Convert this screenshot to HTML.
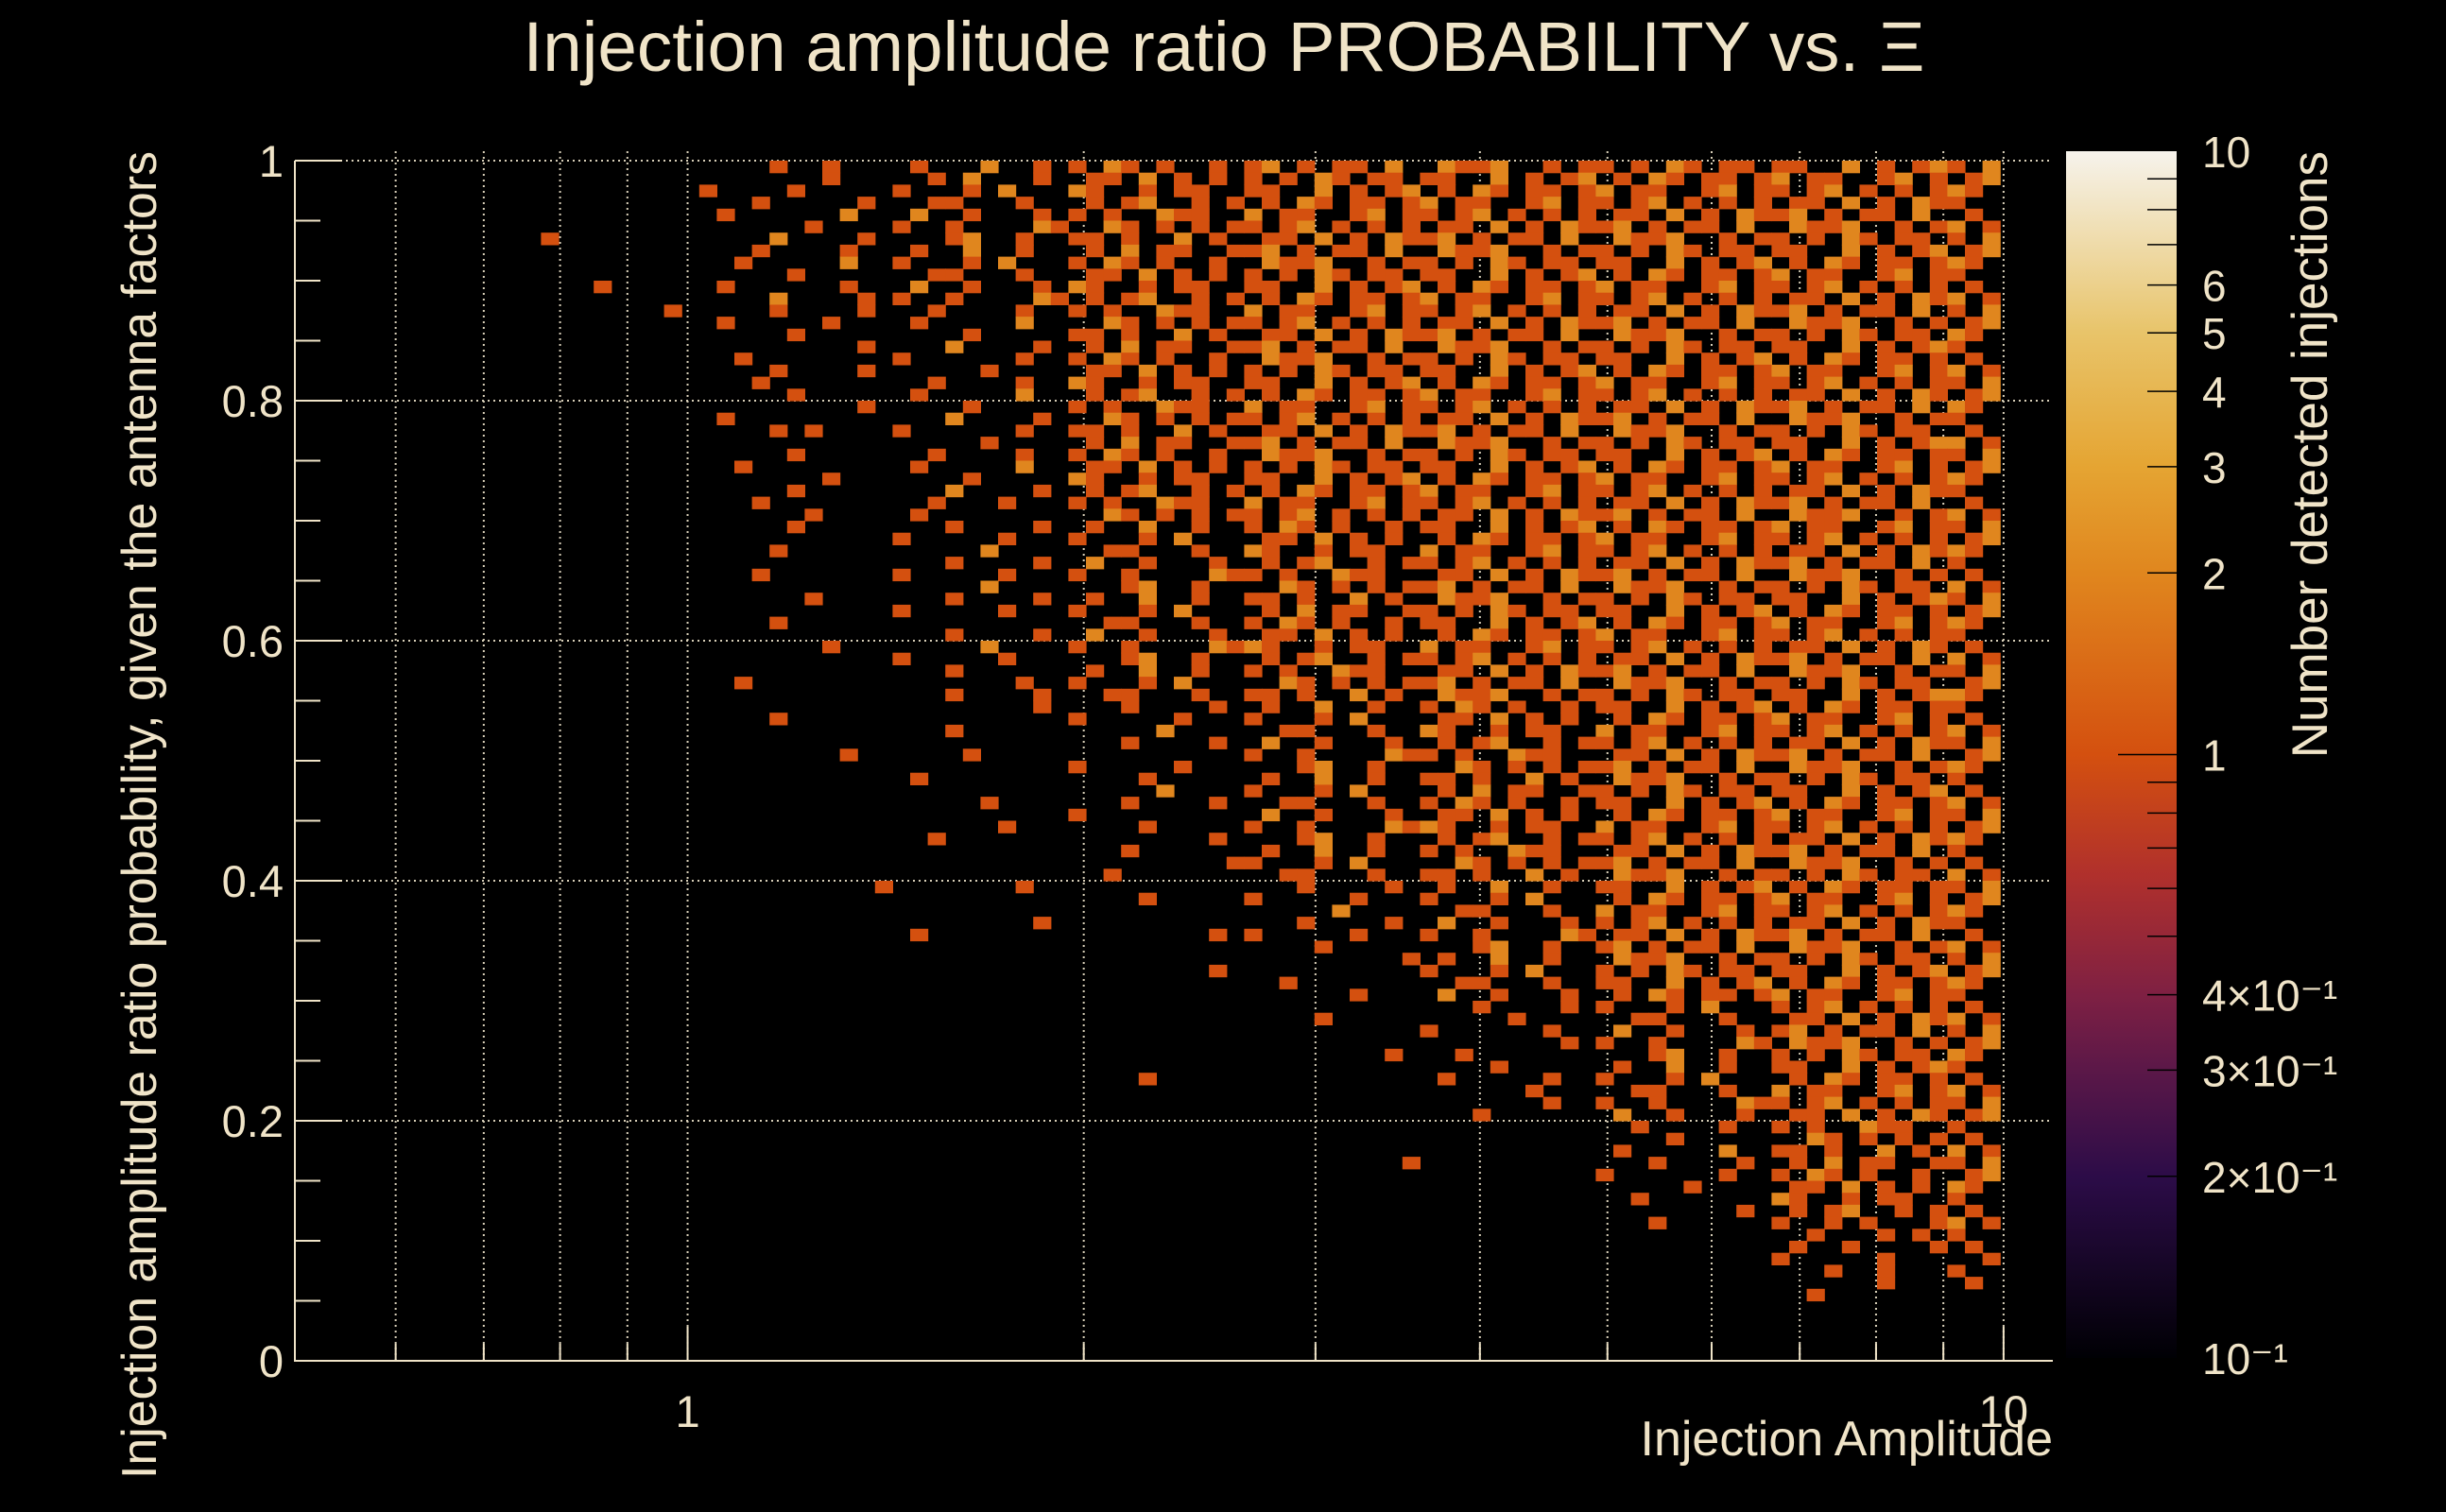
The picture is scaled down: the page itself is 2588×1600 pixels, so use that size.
<!DOCTYPE html>
<html><head><meta charset="utf-8"><style>
html,body{margin:0;padding:0;background:#000;}
svg{display:block;}
text{font-family:"Liberation Sans",sans-serif;fill:#f0e4c8;}
</style></head><body>
<svg id="chart" width="2588" height="1600" viewBox="0 0 2588 1600" xmlns="http://www.w3.org/2000/svg">
<rect x="0" y="0" width="2588" height="1600" fill="#000"/>
<defs>
<linearGradient id="cmap" x1="0" y1="1" x2="0" y2="0">
<stop offset="0" stop-color="#000004"/><stop offset="0.15" stop-color="#2c0c48"/><stop offset="0.24" stop-color="#5c1848"/>
<stop offset="0.30" stop-color="#7e2043"/><stop offset="0.40" stop-color="#b0302c"/><stop offset="0.5" stop-color="#d4500f"/>
<stop offset="0.65" stop-color="#e0861e"/><stop offset="0.74" stop-color="#e5a533"/><stop offset="0.85" stop-color="#e8c46a"/>
<stop offset="1" stop-color="#f6f3ec"/></linearGradient></defs>
<g id="grid"></g>
<g id="cells"></g>
<g id="axes"></g>
<g id="cbar"></g>
<text x="1295" y="75" font-size="74" text-anchor="middle" textLength="1483" lengthAdjust="spacingAndGlyphs">Injection amplitude ratio PROBABILITY vs.  Ξ</text>
<text x="2172" y="1540" font-size="52" text-anchor="end">Injection Amplitude</text>
<text transform="translate(165,160) rotate(-90)" font-size="52" text-anchor="end" textLength="1405" lengthAdjust="spacingAndGlyphs">Injection amplitude ratio probability, given the antenna factors</text>
<text transform="translate(2462,160) rotate(-90)" font-size="53" text-anchor="end">Number detected injections</text>
</svg>
<script>
// ---- data ----
const xTickValues = [1, 10];
const xTickLabels = ["1", "10"];
const xGridValues = [0.6,0.7,0.8,0.9,1,2,3,4,5,6,7,8,9,10];
const yTickValues = [0,0.2,0.4,0.6,0.8,1];
const yTickLabels = ["0","0.2","0.4","0.6","0.8","1"];
const zTickValues = [10,6,5,4,3,2,1,0.4,0.3,0.2,0.1];
const zTickLabels = ["10","6","5","4","3","2","1","4×10⁻¹","3×10⁻¹","2×10⁻¹","10⁻¹"];
const firstCol = 14;
// rows from top (y bin 0.99-1.0) downward; char = count per cell, starting at column 14
const rowsRaw = [
".......... ...1..1... .1...2..1. 1.21.1..1. 12.1.11.2. .2112..1.1 1.1.21.11. 11..2.1.12 1.21",
".......... ......1... ..1.2...1. .11.2.1.1. 1.1.21.11. 11..2.1.12 .1.21.11.1 2.11..12.1 .12.",
".........1 ....1..... 1...1.2... 21..1.11.. 11..2.1.12 .1.21.11.1 2.11..12.1 1.12.1.1.1 21.1",
".......... ..1.....1. ..11...1.. .1.12..1.1 .1.21.11.1 2.11..12.1 1.12.1.1.1 .11.2.1.21 1..1",
".......... 1......2.. .2..1...1. 1.1..211.. 2.11..12.1 1.12.1.1.1 .11.2.1.21 12.1.11.2. .1.1",
".......... .....1.... 1..1....21 ..21.1.1.1 1.12.1.1.1 .11.2.1.21 12.1.11.2. .2112..1.1 2.1.",
"1......... ...2....1. ...12..1.. 11.1..2.1. .11.2.1.21 12.1.11.2. .2112..1.1 1.1.21.11. 1.21",
".......... ..1....1.. .1..2..1.. .1.2.11..1 12.1.11.2. .2112..1.1 1.1.21.11. 11..2.1.12 .12.",
".......... .1.....2.. 1...1.2... 1.21.1..1. .2112..1.1 1.1.21.11. 11..2.1.12 .1.21.11.1 21.1",
".......... ....1..... ..11...1.. .11.2.1.1. 1.1.21.11. 11..2.1.12 .1.21.11.1 2.11..12.1 1..1",
"...1...... 1......1.. .2..1...1. 21..1.11.. 11..2.1.12 .1.21.11.1 2.11..12.1 1.12.1.1.1 .1.1",
".......... ...2....1. 1..1....21 .1.12..1.1 .1.21.11.1 2.11..12.1 1.12.1.1.1 .11.2.1.21 2.1.",
".......1.. ...1....1. ..1....1.. 1.1..211.. 2.11..12.1 1.12.1.1.1 .11.2.1.21 12.1.11.2. 1.21",
".......... 1.....1... .1.....2.. ..21.1.1.1 1.12.1.1.1 .11.2.1.21 12.1.11.2. .2112..1.1 .12.",
".......... ....1..... ....1..... 11.1..2.1. .11.2.1.21 12.1.11.2. .2112..1.1 1.1.21.11. 21.1",
".......... ........1. ...2....1. .1.2.11..1 12.1.11.2. .2112..1.1 1.1.21.11. 11..2.1.12 1..1",
".......... .1........ 1......1.. 1.21.1..1. .2112..1.1 1.1.21.11. 11..2.1.12 .1.21.11.1 .1.1",
".......... ...1....1. .....1.... .11.2.1.1. 1.1.21.11. 11..2.1.12 .1.21.11.1 2.11..12.1 2.1.",
".......... ..1....... ..1....1.. 21..1.11.. 11..2.1.12 .1.21.11.1 2.11..12.1 1.12.1.1.1 1.21",
".......... ....1..... .1.....2.. .1.12..1.1 .1.21.11.1 2.11..12.1 1.12.1.1.1 .11.2.1.21 .12.",
".......... ........1. ....1..... 1.1..211.. 2.11..12.1 1.12.1.1.1 .11.2.1.21 12.1.11.2. 21.1",
".......... 1......... ...2....1. ..21.1.1.1 1.12.1.1.1 .11.2.1.21 12.1.11.2. .2112..1.1 1..1",
".......... ...1.1.... 1......1.. 11.1..2.1. .11.2.1.21 12.1.11.2. .2112..1.1 1.1.21.11. .1.1",
".......... .......... .....1.... .1.2.11..1 12.1.11.2. .2112..1.1 1.1.21.11. 11..2.1.12 2.1.",
".......... ....1..... ..1....1.. 1.21.1..1. .2112..1.1 1.1.21.11. 11..2.1.12 .1.21.11.1 1.21",
".......... .1........ .1.....2.. .11.2.1.1. 1.1.21.11. 11..2.1.12 .1.21.11.1 2.11..12.1 .12.",
".......... ......1... ....1..... 21..1.11.. 11..2.1.12 .1.21.11.1 2.11..12.1 1.12.1.1.1 21.1",
".......... ....1..... ...2....1. .1.12..1.1 .1.21.11.1 2.11..12.1 1.12.1.1.1 .11.2.1.21 1..1",
".......... ..1....... ..1...1... 1.1..211.. 2.11..12.1 1.12.1.1.1 .11.2.1.21 12.1.11.2. .1.1",
".......... .....1.... .1........ ..21.1.1.1 1.12.1.1.1 .11.2.1.21 12.1.11.2. .2112..1.1 2.1.",
".......... ....1..... ...1....1. .1..2..1.. 1.21.1..1. 11..2.1.12 .1.21.11.1 2.11..12.1 1.21",
".......... .......... 1.....1... 1...1.2... .11.2.1.1. .1.21.11.1 2.11..12.1 1.12.1.1.1 .12.",
".......... ...1...... .....2.... ..11...1.. 21..1.11.. 2.11..12.1 1.12.1.1.1 .11.2.1.21 21.1",
".......... .......... ...1....1. .2..1...1. .1.12..1.1 1.12.1.1.1 .11.2.1.21 12.1.11.2. 1..1",
".......... ..1....... 1.....1... 1..1....21 1.1..211.. .11.2.1.21 12.1.11.2. .2112..1.1 .1.1",
".......... .......... .....2.... ...12..1.. ..21.1.1.1 12.1.11.2. .2112..1.1 1.1.21.11. 2.1.",
".......... .....1.... ...1....1. .1..2..1.. 11.1..2.1. .2112..1.1 1.1.21.11. 11..2.1.12 1.21",
".......... .......... 1.....1... 1...1.2... .1.2.11..1 1.1.21.11. 11..2.1.12 .1.21.11.1 .12.",
".......... ...1...... .......... ..11...1.. 1.21.1..1. 11..2.1.12 .1.21.11.1 2.11..12.1 21.1",
".......... .......... ...1....1. .2..1...1. .11.2.1.1. .1.21.11.1 2.11..12.1 1.12.1.1.1 1..1",
".......... ......1... .....2.... 1..1....21 21..1.11.. 2.11..12.1 1.12.1.1.1 .11.2.1.21 .1.1",
".......... .......... 1.....1... ...12..1.. .1.12..1.1 1.12.1.1.1 .11.2.1.21 12.1.11.2. 2.1.",
".......... .......... ...1...... .1..2..1.. 1.1..211.. .11.2.1.21 12.1.11.2. .2112..1.1 1.21",
".......... .1........ .......1.. 1...1.2... ..21.1.1.1 12.1.11.2. .2112..1.1 1.1.21.11. .12.",
".......... .......... ...1....1. ..11...1.. 11.1..2.1. .2112..1.1 1.1.21.11. 11..2.1.12 21.1",
".......... .......... ........1. ...1....1. .1..2..1.. 1.21.1..1. 11..2.1.12 .1.21.11.1 1..1",
".......... ...1...... .......... 1.....1... 1...1.2... .11.2.1.1. .1.21.11.1 2.11..12.1 .1.1",
".......... .......... ...1...... .....2.... ..11...1.. 21..1.11.. 2.11..12.1 1.12.1.1.1 2.1.",
".......... .......... .......... ...1....1. .2..1...1. .1.12..1.1 1.12.1.1.1 .11.2.1.21 1.21",
".......... .......1.. ....1..... .......... 1..1....21 1.1..211.. .11.2.1.21 12.1.11.2. .12.",
".......... .......... .......... 1.....1... ...12..1.. ..21.1.1.1 12.1.11.2. .2112..1.1 21.1",
".......... .......... .1........ ....1..... .1..2..1.. 11.1..2.1. .2112..1.1 1.1.21.11. 1..1",
".......... .......... .......... .....2.... 1...1.2... .1.2.11..1 1.1.21.11. 11..2.1.12 .1.1",
".......... .......... .....1.... ...1....1. ..11...1.. 1.21.1..1. 11..2.1.12 .1.21.11.1 2.1.",
".......... .......... .......... 1......... .2..1...1. .11.2.1.1. .1.21.11.1 2.11..12.1 1.21",
".......... .......... ......1... ....1..... 1..1....21 21..1.11.. 2.11..12.1 1.12.1.1.1 .12.",
".......... .......... ..1....... ........1. ...12..1.. .1.12..1.1 1.12.1.1.1 .11.2.1.21 21.1",
".......... .......... .......... ...1...... .1..2..1.. 1.1..211.. .11.2.1.21 12.1.11.2. 1..1",
".......... .......... .......... .........1 1...1.2... ..21.1.1.1 12.1.11.2. .2112..1.1 .1.1",
".......... .......... .......... ..1....... ..11...1.. 11.1..2.1. .2112..1.1 1.1.21.11. 2.1.",
".......... .........1 .......1.. .......... ...1....1. .1..2..1.. 11..2.1.12 .1.21.11.1 1.21",
".......... .......... .......... ....1..... 1.....1... 1...1.2... .1.21.11.1 2.11..12.1 .12.",
".......... .......... .......... .......... .....2.... ..11...1.. 2.11..12.1 1.12.1.1.1 21.1",
".......... .......... ........1. .......... ...1....1. .2..1...1. 1.12.1.1.1 .11.2.1.21 1..1",
".......... .......... .1........ ........1. 1.....1... 1..1....21 .11.2.1.21 12.1.11.2. .1.1",
".......... .......... .......... .......... ....1..... ...12..1.. 12.1.11.2. .2112..1.1 2.1.",
".......... .......... .......... .......... .........1 .1..2..1.. .2112..1.1 1.1.21.11. 1.21",
".......... .......... .......... ........1. .......... 1...1.2... 1.1.21.11. 11..2.1.12 .12.",
".......... .......... .......... .......... ..1....... ..11...1.. 11..2.1.12 .1.21.11.1 21.1",
".......... .......... .......... .......... ......1... .2..1...1. .1.21.11.1 2.11..12.1 1..1",
".......... .......... .......... .......... .......... ...1....1. 1...1.2... 1.12.1.1.1 .1.1",
".......... .......... .......... .......... ....1..... .....1.... ..11...1.. .11.2.1.21 2.1.",
".......... .......... .......... .......... .......... 1......1.. .2..1...1. 12.1.11.2. 1.21",
".......... .......... .......... .......... .......... ........1. 1..1....21 .2112..1.1 .12.",
".......... .......... .......... .......... ........1. ..1....... ...12..1.. 1.1.21.11. 21.1",
".......... .......... .......... .......... .......... ....1..... .1..2..1.. 11..2.1.12 1..1",
".......... .......... .......... ....1..... .......... .1.....1.. 1...1.2... .1.21.11.1 .1.1",
".......... .......... .......... .......... .......... ......1... ..11...1.. 2.11..12.1 2.1.",
".......... .......... .......... .......... .......... .......1.. 1..1....21 1.12.1.1.1 1.21",
".......... .......... .......... .......... .......... ...1...... .2..1...1. .11.2.1.21 .12.",
".......... .......... .......... .......... .......... .......... ..1....1.. 1.1..211.. 1..1",
".......... .......... .......... .......... .......... .......... ....1..... ..21.1.1.1 .1.1",
".......... .......... .......... .......... .......... .......... .1.....2.. 11.1..2.1. 2.1.",
".......... .......... .......... .......... .........1 .......... ...1....1. .1.2.11..1 1.21",
".......... .......... .......... .......... .......... .......... 1......1.. 1.21.1..1. .12.",
".......... .......... .......... .......... .......... .......... .....1.... .11.2.1.1. 21.1",
".......... .......... .......... .......... .......... .......... ..1....... 21..1.11.. 1..1",
".......... .......... .......... .......... .......... .......... ........1. .1.12..1.1 .1.1",
".......... .......... .......... .......... .......... .......... ...1...... 1..1.1...1 2.1.",
".......... .......... .......... .......... .......... .......... .......... ..1...1.1. 1..1",
".......... .......... .......... .......... .......... .......... .......... .1..1....1 .1..",
".......... .......... .......... .......... .......... .......... .......... 1.....1... ..1.",
".......... .......... .......... .......... .......... .......... .......... ...1..1... 1...",
".......... .......... .......... .......... .......... .......... .......... ......1... .1..",
".......... .......... .......... .......... .......... .......... .......... ..1....... ...."
];
// ---- scales ----
const NS="http://www.w3.org/2000/svg";
const PX0=312, PX1=2172, PY0=1440, PY1=170;
const XMIN=0.503, XMAX=10.9, NXB=100, NYB=100, MAXCOL=96;
function xScale(v){return PX0+(Math.log10(v)-Math.log10(XMIN))/(Math.log10(XMAX)-Math.log10(XMIN))*(PX1-PX0);}
function yScale(v){return PY0-v*(PY0-PY1);}
const CB_TOP=160, CB_BOT=1437, CB_X0=2186, CB_X1=2303;
function zScale(v){return CB_BOT-(Math.log10(v)-Math.log10(0.1))/2*(CB_BOT-CB_TOP);}
const stops=[[0,[0,0,4]],[0.15,[44,12,72]],[0.24,[92,24,72]],[0.30,[126,32,67]],[0.40,[176,48,44]],[0.5,[212,80,15]],[0.65,[224,134,30]],[0.74,[229,165,51]],[0.85,[232,196,106]],[1,[246,243,236]]];
function zColor(v){
  let t=(Math.log10(v)+1)/2; t=Math.max(0,Math.min(1,t));
  for(let i=1;i<stops.length;i++){ if(t<=stops[i][0]){const a=stops[i-1],b=stops[i];const f=(t-a[0])/(b[0]-a[0]);
    const c=a[1].map((x,k)=>Math.round(x+(b[1][k]-x)*f));return `rgb(${c[0]},${c[1]},${c[2]})`;}}
  return "rgb(246,243,236)";
}
function binEdgeX(i){return Math.pow(10,Math.log10(XMIN)+i*(Math.log10(XMAX)-Math.log10(XMIN))/NXB);}
function mk(tag,attrs,parent){const e=document.createElementNS(NS,tag);for(const k in attrs)e.setAttribute(k,attrs[k]);parent.appendChild(e);return e;}
const rows=rowsRaw.map(s=>s.replace(/ /g,''));
// ---- grid ----
const grid=document.getElementById('grid');
yTickValues.slice(1).forEach(v=>{
  const l=mk('line',{x1:PX0,x2:PX1,y1:yScale(v),y2:yScale(v),stroke:'#d8cfb8','stroke-width':2,'stroke-dasharray':'2 4'},grid);
  
  
});
xGridValues.forEach(v=>{
  const l=mk('line',{x1:xScale(v),x2:xScale(v),y1:160,y2:PY0,stroke:'#d8cfb8','stroke-width':2,'stroke-dasharray':'2 4'},grid);
  
  
});
// ---- cells ----
const cells=document.getElementById('cells');
rows.forEach((row,r)=>{
  for(let j=0;j<row.length;j++){
    const ch=row[j]; if(ch==='.')continue;
    const val=parseInt(ch,10); const c=firstCol+j;
    if(isNaN(val)||c>MAXCOL)continue;
    const x0=xScale(binEdgeX(c)), x1=xScale(binEdgeX(c+1));
    const yTop=yScale(1-r/NYB), yBot=yScale(1-(r+1)/NYB);
    const rc=mk('rect',{x:x0.toFixed(2),y:yTop.toFixed(2),width:(x1-x0+0.6).toFixed(2),height:(yBot-yTop+0.6).toFixed(2),fill:zColor(val)},cells);
    
    
  }
});
// ---- axes ----
const axes=document.getElementById('axes');
const AC='#f0e4c8';
let a=mk('line',{x1:PX0,x2:PX0,y1:PY1,y2:PY0+1,stroke:AC,'stroke-width':2},axes);


a=mk('line',{x1:PX0,x2:PX1,y1:PY0,y2:PY0,stroke:AC,'stroke-width':2},axes);


for(let k=0;k<=20;k++){
  const v=k*0.05; const major=(k%4===0);
  const t=mk('line',{x1:PX0,x2:PX0+(major?50:27),y1:yScale(v),y2:yScale(v),stroke:AC,'stroke-width':2},axes);
  
  
}
yTickValues.forEach((v,i)=>{
  const t=mk('text',{x:300,y:yScale(v)+17,'font-size':47,'text-anchor':'end'},axes);
  t.textContent=yTickLabels[i];
  
  
});
xGridValues.forEach(v=>{
  const major=xTickValues.includes(v);
  const t=mk('line',{x1:xScale(v),x2:xScale(v),y1:PY0,y2:PY0-(major?36:18),stroke:AC,'stroke-width':2},axes);
  
  
});
xTickValues.forEach((v,i)=>{
  const t=mk('text',{x:xScale(v),y:1510,'font-size':47,'text-anchor':'middle'},axes);
  t.textContent=xTickLabels[i];
  
  
});
// ---- color bar ----
const cb=document.getElementById('cbar');
let g=mk('rect',{x:CB_X0,y:CB_TOP,width:CB_X1-CB_X0,height:CB_BOT-CB_TOP,fill:'url(#cmap)'},cb);


const minorZ=[0.2,0.3,0.4,0.5,0.6,0.7,0.8,0.9,2,3,4,5,6,7,8,9];
minorZ.forEach(v=>{
  const t=mk('line',{x1:CB_X1-31,x2:CB_X1,y1:zScale(v),y2:zScale(v),stroke:'#000','stroke-width':1.5},cb);
  
  
});
let tm=mk('line',{x1:CB_X1-62,x2:CB_X1,y1:zScale(1),y2:zScale(1),stroke:'#000','stroke-width':1.5},cb);


zTickValues.forEach((v,i)=>{
  const t=mk('text',{x:2330,y:zScale(v)+17,'font-size':46,'text-anchor':'start'},cb);
  t.textContent=zTickLabels[i];
  
  
});
</script>
</body></html>
